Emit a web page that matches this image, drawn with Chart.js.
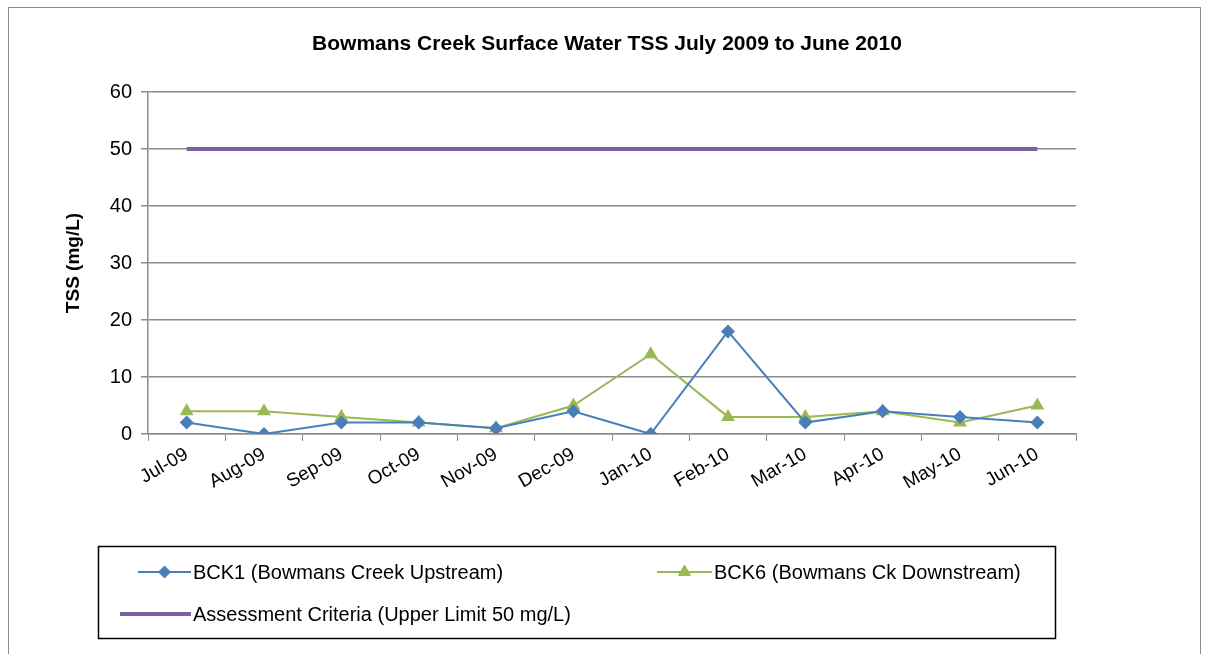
<!DOCTYPE html>
<html>
<head>
<meta charset="utf-8">
<script src="https://cdn.jsdelivr.net/npm/chart.js@4.4.1/dist/chart.umd.min.js"></script>
<style>
    html, body { margin: 0; padding: 0; background: #fff; }
    #wrap { position: relative; width: 1205px; height: 654px; overflow: hidden; }
    #frame {
        position: absolute; left: 8px; top: 7px; width: 1193px; height: 700px;
        border: 1px solid #8c8c8c; box-sizing: border-box;
    }
    #tssChart { position: absolute; left: 0; top: 0; }
</style>
</head>
<body>
<div id="wrap">
    <div id="frame"></div>
    <canvas id="tssChart" width="1205" height="654"></canvas>
</div>
<script>
// Monthly TSS samples, Jul 2009 - Jun 2010
const months = ['Jul-09', 'Aug-09', 'Sep-09', 'Oct-09', 'Nov-09', 'Dec-09',
                'Jan-10', 'Feb-10', 'Mar-10', 'Apr-10', 'May-10', 'Jun-10'];
const bck1Upstream = [2, 0, 2, 2, 1, 4, 0, 18, 2, 4, 3, 2];
const bck6Downstream = [4, 4, 3, 2, 1, 5, 14, 3, 3, 4, 2, 5];
const criteriaLimit = [50, 50, 50, 50, 50, 50, 50, 50, 50, 50, 50, 50];
const yTicks = [0, 10, 20, 30, 40, 50, 60];
const chartTitle = 'Bowmans Creek Surface Water TSS July 2009 to June 2010';

const FONT = "'Liberation Sans', Arial, sans-serif";
const GRID = '#8c8c8c';

// title centred over the whole frame, plus the boxed legend under the plot
const boxLegend = {
    id: 'boxLegend',
    afterDraw(chart) {
        const ctx = chart.ctx;
        const ds = chart.data.datasets;
        ctx.save();
        ctx.fillStyle = '#000';
        ctx.font = 'bold 21px ' + FONT;
        ctx.textAlign = 'center';
        ctx.textBaseline = 'middle';
        ctx.fillText(chartTitle, 607, 44);

        ctx.strokeStyle = '#000';
        ctx.lineWidth = 1.5;
        ctx.strokeRect(98.5, 546.5, 957, 92);

        const slots = [
            { x0: 138, x1: 191, y: 572 },
            { x0: 657, x1: 712, y: 572 },
            { x0: 120, x1: 191, y: 614 }
        ];
        ctx.font = '20px ' + FONT;
        ctx.textAlign = 'left';
        ds.forEach((d, i) => {
            const s = slots[i];
            ctx.strokeStyle = d.borderColor;
            ctx.lineWidth = d.borderWidth;
            ctx.beginPath();
            ctx.moveTo(s.x0, s.y);
            ctx.lineTo(s.x1, s.y);
            ctx.stroke();
            if (d.pointRadius > 0) {
                ctx.fillStyle = d.backgroundColor;
                ctx.strokeStyle = d.borderColor;
                ctx.lineWidth = 1;
                Chart.helpers.drawPoint(ctx, {
                    pointStyle: d.pointStyle,
                    radius: d.pointRadius - 1,
                    rotation: 0,
                    borderWidth: 1
                }, (s.x0 + s.x1) / 2, s.y);
            }
            ctx.fillStyle = '#000';
            ctx.fillText(d.label, s.x1 + 2, s.y + 1);
        });
        ctx.restore();
    }
};

const ctx = document.getElementById('tssChart').getContext('2d');
const chart = new Chart(ctx, {
    type: 'line',
    data: {
        labels: months,
        datasets: [{
            label: 'BCK1 (Bowmans Creek Upstream)',
            data: bck1Upstream,
            borderColor: '#4a7ebb',
            backgroundColor: '#4a7ebb',
            borderWidth: 2,
            pointStyle: 'rectRot',
            pointRadius: 7,
            pointBorderWidth: 0,
            tension: 0
        }, {
            label: 'BCK6 (Bowmans Ck Downstream)',
            data: bck6Downstream,
            borderColor: '#98b954',
            backgroundColor: '#98b954',
            borderWidth: 2,
            pointStyle: 'triangle',
            pointRadius: 8,
            pointBorderWidth: 0,
            tension: 0
        }, {
            label: 'Assessment Criteria (Upper Limit 50 mg/L)',
            data: criteriaLimit,
            borderColor: '#7d60a0',
            backgroundColor: '#7d60a0',
            borderWidth: 4,
            pointRadius: 0,
            tension: 0
        }]
    },
    options: {
        responsive: false,
        animation: false,
        layout: {
            padding: { left: 62, right: 129, top: 92, bottom: 120 }
        },
        plugins: {
            legend: { display: false },
            tooltip: { enabled: false },
            title: { display: false }
        },
        scales: {
            x: {
                offset: true,
                grid: {
                    offset: true,
                    drawOnChartArea: false,
                    drawTicks: true,
                    tickLength: 7,
                    color: GRID
                },
                border: { display: true, color: GRID, width: 1.5 },
                ticks: {
                    color: '#000',
                    font: { family: FONT, size: 19 },
                    minRotation: 30,
                    maxRotation: 30,
                    padding: 2
                },
                afterFit(scale) { scale.height = 100; }
            },
            y: {
                min: 0,
                max: 60,
                afterBuildTicks(scale) {
                    scale.ticks = yTicks.map(v => ({ value: v }));
                },
                grid: {
                    color: GRID,
                    lineWidth: 1.5,
                    tickLength: 7
                },
                border: { display: true, color: GRID, width: 1.5 },
                ticks: {
                    color: '#000',
                    font: { family: FONT, size: 20 },
                    padding: 9
                },
                title: {
                    display: true,
                    text: 'TSS (mg/L)',
                    color: '#000',
                    font: { family: FONT, size: 19, weight: 'bold' },
                    padding: { top: 0, bottom: 0 }
                },
                afterFit(scale) { scale.width = 86; }
            }
        }
    },
    plugins: [boxLegend]
});
</script>
</body>
</html>
